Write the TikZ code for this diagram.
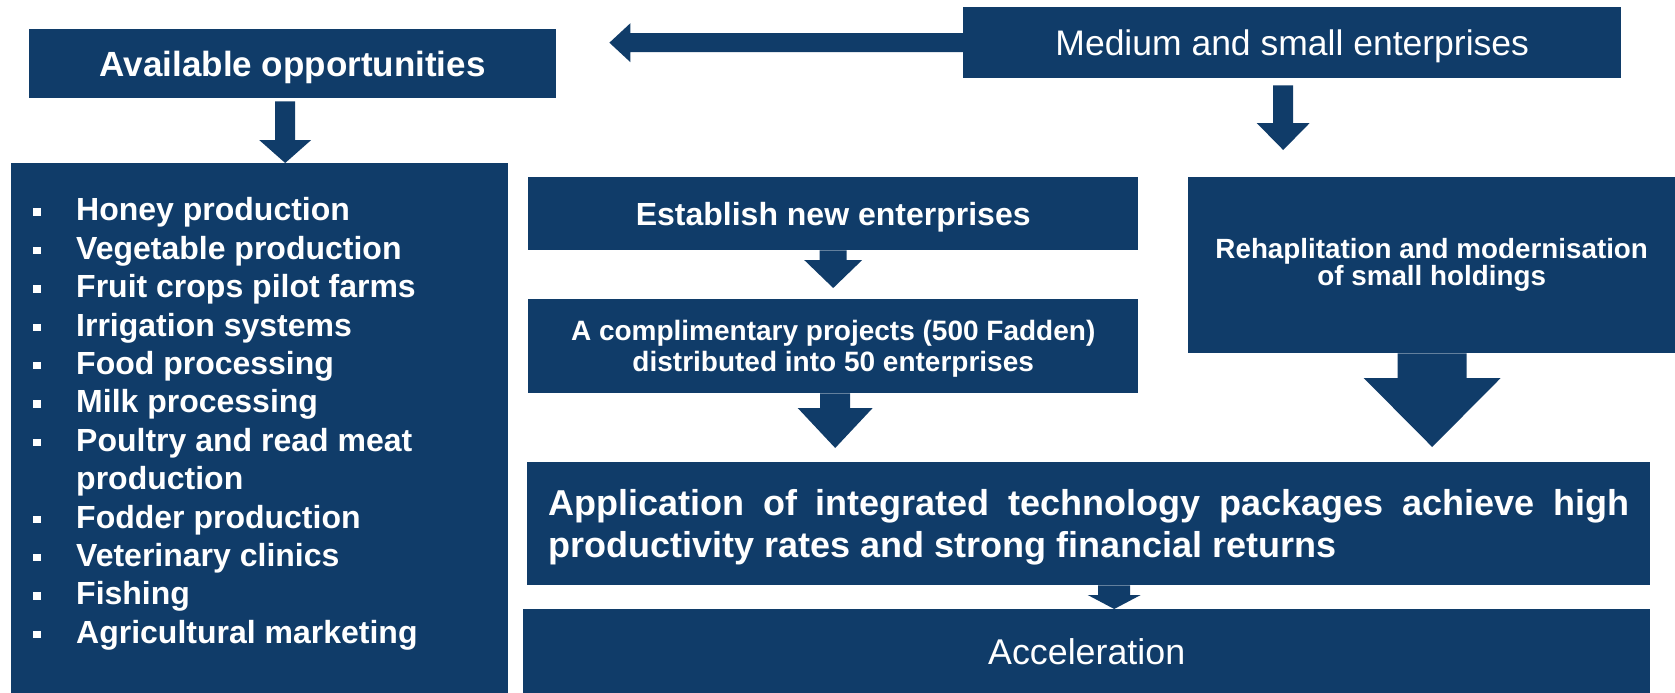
\documentclass[tikz,border=0pt]{standalone}
\usepackage{fontspec}
\setmainfont{Liberation Sans}
\usetikzlibrary{calc}
\definecolor{navy}{RGB}{16,60,105}
\hyphenpenalty=10000
\newcommand{\fsz}[2]{\fontsize{#1pt}{#2pt}\selectfont}
\newcommand{\bul}{\makebox[43pt][l]{\rule[5pt]{7.5pt}{7.5pt}}}
% vertical block arrow: #1 top point, #2 tip point, #3 x offset from top point, #4 shaft half width, #5 head half width, #6 head length
\newcommand{\vblock}[6]{\fill[barrow] let \p1=(#1), \p2=(#2) in
  (\x1+#3pt-#4pt,\y1) -- (\x1+#3pt+#4pt,\y1) -- (\x1+#3pt+#4pt,\y2+#6pt) -- (\x1+#3pt+#5pt,\y2+#6pt)
  -- (\x1+#3pt,\y2) -- (\x1+#3pt-#5pt,\y2+#6pt) -- (\x1+#3pt-#4pt,\y2+#6pt) -- cycle;}
% horizontal block arrow pointing left: #1 start point, #2 tip point, #3 shaft hw, #4 head hw, #5 head len
\newcommand{\hblock}[5]{\fill[barrow] let \p1=(#1), \p2=(#2) in
  (\x1,\y1+#3pt) -- (\x2+#5pt,\y1+#3pt) -- (\x2+#5pt,\y1+#4pt) -- (\x2,\y1) -- (\x2+#5pt,\y1-#4pt)
  -- (\x2+#5pt,\y1-#3pt) -- (\x1,\y1-#3pt) -- cycle;}
\tikzset{
  box/.style={fill=navy, text=white, anchor=north west, inner sep=0pt, align=center, text depth=0pt},
  barrow/.style={fill=navy},
}
\begin{document}
\begin{tikzpicture}[x=1pt,y=-1pt]
\useasboundingbox (0,0) rectangle (1675,693);
\fill[white] (0,0) rectangle (1675,693);

\node[box, minimum width=527pt, minimum height=69pt, text height=25pt, font=\bfseries\fsz{35}{40}] (avail) at (29,29) {Available opportunities};
\node[box, minimum width=658pt, minimum height=71pt, text height=25.4pt, font=\fsz{35.5}{40}] (medium) at (963,7) {Medium and small enterprises};
\node[box, minimum width=497pt, minimum height=530pt] (list) at (11,163) {};
\node[anchor=north west, inner sep=0pt, align=left, text=white, font=\bfseries\fsz{32}{38.4}] (listtext) at (33,197.5) {%
\bul Honey production\\
\bul Vegetable production\\
\bul Fruit crops pilot farms\\
\bul Irrigation systems\\
\bul Food processing\\
\bul Milk processing\\
\bul Poultry and read meat\\
\hspace*{43pt}production\\
\bul Fodder production\\
\bul Veterinary clinics\\
\bul Fishing\\
\bul Agricultural marketing};
\node[box, minimum width=610pt, minimum height=73pt, text height=22.9pt, font=\bfseries\fsz{32}{38}] (establish) at (528,177) {Establish new enterprises};
\node[box, minimum width=610pt, minimum height=94pt, text height=51pt, font=\bfseries\fsz{28}{31}] (compl) at (528,299) {A complimentary projects (500 Fadden)\\distributed into 50 enterprises};
\node[box, minimum width=487pt, minimum height=176pt, text height=47.4pt, text depth=6pt, font=\bfseries\fsz{27.8}{27.5}] (rehab) at (1188,177) {Rehaplitation and modernisation\\of small holdings};
\node[box, minimum width=1123pt, minimum height=123pt, text width=1081pt, align=justify, text height=25.8pt, text depth=42pt, font=\bfseries\fsz{36}{42}] (app) at (527,462) {Application of integrated technology packages achieve high productivity rates and strong financial returns};
\node[box, minimum width=1127pt, minimum height=84pt, text height=25.6pt, font=\fsz{35.8}{40}] (accel) at (523,609) {Acceleration};

\coordinate (htip) at ([xshift=53pt]avail.east |- medium.west);
\hblock{medium.west}{htip}{9.5}{19.5}{21}
\vblock{$(avail.south)+(0,3)$}{list.north}{-7.5}{10}{26}{23}
\vblock{$(medium.south)+(0,7)$}{$(rehab.north)+(0,-27)$}{-9}{10}{26.5}{27}
\vblock{establish.south}{$(compl.north)+(0,-11)$}{0}{13.5}{29}{28}
\vblock{compl.south}{$(app.north)+(0,-14)$}{2}{15}{37.5}{40}
\vblock{rehab.south}{$(app.north)+(0,-15)$}{0.5}{34.5}{68.5}{69}
\vblock{app.south}{accel.north}{25.5}{16}{26.5}{14}
\end{tikzpicture}
\end{document}
